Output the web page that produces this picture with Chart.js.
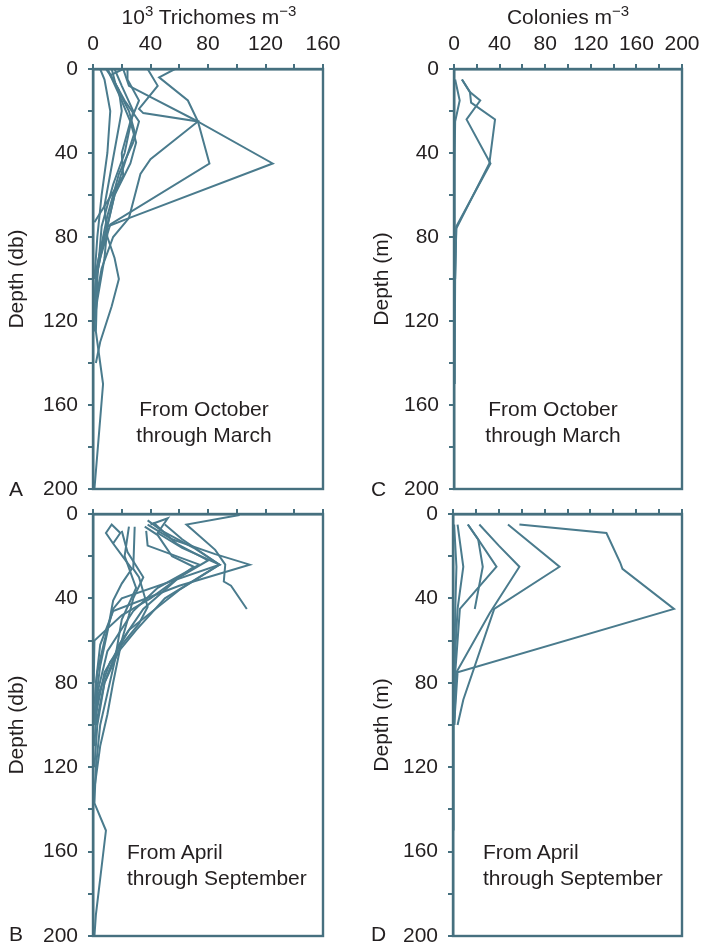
<!DOCTYPE html>
<html>
<head>
<meta charset="utf-8">
<script src="https://cdn.jsdelivr.net/npm/chart.js@4.4.1/dist/chart.umd.min.js"></script>
<style>
  html,body{margin:0;padding:0;background:#fff;}
  body{width:702px;height:946px;position:relative;overflow:hidden;font-family:"Liberation Sans",Arial,Helvetica,sans-serif;color:#231f20;}
  .box{position:absolute;}
  .txt{position:absolute;font-size:21px;line-height:26px;white-space:nowrap;}
  .ctr{transform:translateX(-50%);text-align:center;}
  sup{font-size:15px;vertical-align:0;position:relative;top:-8px;}
</style>
</head>
<body>
<div class="box" style="left:0;top:0;"><canvas id="chA" width="351" height="500"></canvas></div>
<div class="box" style="left:351px;top:0;"><canvas id="chC" width="351" height="500"></canvas></div>
<div class="box" style="left:0;top:500px;"><canvas id="chB" width="351" height="446"></canvas></div>
<div class="box" style="left:351px;top:500px;"><canvas id="chD" width="351" height="446"></canvas></div>

<div class="txt ctr" style="left:209px;top:4px;">10<sup>3</sup> Trichomes m<sup>&minus;3</sup></div>
<div class="txt ctr" style="left:568px;top:4px;">Colonies m<sup>&minus;3</sup></div>

<div class="txt" style="left:9px;top:476px;">A</div>
<div class="txt" style="left:9px;top:921px;">B</div>
<div class="txt" style="left:371px;top:476px;">C</div>
<div class="txt" style="left:371px;top:921px;">D</div>

<div class="txt ctr" style="left:204px;top:396px;">From October<br>through March</div>
<div class="txt ctr" style="left:553px;top:396px;">From October<br>through March</div>
<div class="txt" style="left:127px;top:839px;">From April<br>through September</div>
<div class="txt" style="left:483px;top:839px;">From April<br>through September</div>

<script>
// ---------- tick labels ----------
const trichomeTicks = [0, 40, 80, 120, 160];
const colonyTicks = [0, 40, 80, 120, 160, 200];
const depthTicks = [0, 40, 80, 120, 160, 200];

// ---------- data: each profile is a list of [abundance, depth] ----------
// A: 10^3 trichomes m^-3, October through March
const octMarTrichomes = [
  [[57,0],[46,4],[66,15],[73,25],[125,45],[25,71],[10,75],[4,90],[2,100],[1,125]],
  [[21,0],[25,8],[73,25],[81,45],[12,74],[5,90],[2,100],[1,110]],
  [[38,0],[45,8],[32,19],[35,21],[73,25],[40,43],[33,50],[25,71],[14,80],[6,95],[2,110]],
  [[9,0],[14,5],[22,15],[32,25],[28,35],[18,50],[10,70],[4,90],[1,100]],
  [[13,0],[16,8],[25,20],[29,30],[22,45],[15,60],[10,75],[8,90],[3,110],[1,120]],
  [[21,0],[12,3],[18,12],[26,25],[20,40],[21,51],[1,73]],
  [[10,0],[18,10],[20,20],[16,35],[12,50],[8,65],[10,80],[15,90],[18,100],[13,113],[5,130],[2,140]],
  [[15,0],[20,8],[28,20],[22,40],[14,55],[6,75],[3,100],[2,125],[7,150],[1,200]],
  [[24,0],[24,5],[32,15],[26,25],[30,35],[26,45],[15,60],[8,80],[2,100],[1,120]],
  [[5,0],[8,5],[12,20],[10,40],[6,60],[3,80],[1,100]]
];
// B: 10^3 trichomes m^-3, April through September
const aprSepTrichomes = [
  [[102,0.5],[65,5],[85,17],[92,24],[91,32],[96,34],[107,45]],
  [[38,5],[55,12],[85,19],[109,24],[60,34],[14,46],[5,62],[2,80],[1,100]],
  [[38,3],[48,8],[70,16],[88,24],[50,40],[30,55],[12,70],[4,85],[1,100]],
  [[40,5],[52,2],[45,9],[62,16],[88,24],[60,36],[25,55],[8,75],[2,95]],
  [[37,8],[38,15],[74,24],[45,35],[28,46],[10,65],[3,85],[1,110]],
  [[14,14],[9,9],[13,5],[19,9],[14,14],[27,26],[20,33],[14,41],[10,56],[5,72],[2,88],[1,100]],
  [[29,6],[28,26],[32,30],[38,44],[32,52],[20,62],[8,80],[2,100]],
  [[36,6],[45,10],[55,20],[70,25],[40,40],[20,48],[1,60],[0.5,80]],
  [[50,5],[62,12],[88,24],[20,40],[14,45],[8,60],[3,75],[1,90]],
  [[42,4],[58,14],[80,22],[60,30],[35,45],[18,62],[8,80],[3,100],[1,120]],
  [[20,8],[24,18],[35,30],[28,40],[25,48],[20,60],[14,80],[10,95],[5,110],[1,130]],
  [[25,6],[22,20],[30,35],[20,50],[15,70],[10,85],[5,100],[2,120],[1,137],[9,150],[2,190],[1,200]]
];
// C: colonies m^-3, October through March
const octMarColonies = [
  [[7,5],[14,11],[23,15],[11,24],[32,45],[2,75],[1,100],[0.5,150]],
  [[7,5],[14,11],[15,16],[36,24],[31,45],[2,76],[1,100]],
  [[1,5],[5,15],[1,25],[0.5,45],[0.5,75],[0.5,100],[0.3,150]]
];
// D: colonies m^-3, April through September
const aprSepColonies = [
  [[58,5],[134,9],[146,23],[148,26],[193,45],[4,75],[1,100]],
  [[48,5],[93,25],[36,45],[9,88],[4,100]],
  [[23,5],[40,15],[58,25],[32,47],[3,75],[1,100]],
  [[13,5],[22,12],[26,25],[19,45]],
  [[13,5],[22,12],[38,25],[6,45],[2,75],[1,100]],
  [[4,5],[9,25],[4,45],[1,75],[1,100]],
  [[1,5],[3,25],[2,45],[1,75],[0.5,100],[0.5,150]]
];

// ---------- styling ----------
const LINE = '#4a7b8d';
const AXIS = '#46707f';
const TEXT = '#231f20';
const FONT = '"Liberation Sans", Arial, Helvetica, sans-serif';

const boxPlugin = {
  id: 'frameBox',
  afterDraw(chart) {
    const {ctx, chartArea: a} = chart;
    ctx.save();
    ctx.strokeStyle = AXIS;
    ctx.lineWidth = 2.4;
    ctx.strokeRect(a.left, a.top, a.right - a.left, a.bottom - a.top);
    ctx.restore();
  }
};

function stepTicks(max) {
  const out = [];
  for (let v = 0; v <= max; v += 20) out.push({value: v});
  return out;
}

function noPad(s) {
  s.paddingTop = 0; s.paddingBottom = 0; s.paddingLeft = 0; s.paddingRight = 0;
}

function makeChart(id, profiles, xMax, xLabels, yTitle, g) {
  new Chart(document.getElementById(id), {
    type: 'scatter',
    data: {
      datasets: profiles.map(p => ({
        data: p.map(([x, y]) => ({x, y})),
        showLine: true,
        borderColor: LINE,
        borderWidth: 2,
        pointRadius: 0,
        pointHoverRadius: 0,
        tension: 0,
        fill: false
      }))
    },
    options: {
      responsive: false,
      animation: false,
      events: [],
      layout: {padding: {left: 0, top: 0, right: g.pr, bottom: g.pb}},
      plugins: {legend: {display: false}, tooltip: {enabled: false}},
      scales: {
        x: {
          type: 'linear', position: 'top', min: 0, max: xMax,
          afterBuildTicks: s => { s.ticks = stepTicks(xMax); },
          afterFit: s => { s.height = g.xh; noPad(s); },
          ticks: {
            autoSkip: false, maxRotation: 0, padding: 7, color: TEXT,
            font: {family: FONT, size: 21},
            callback: v => (xLabels.includes(v) ? String(v) : '')
          },
          grid: {drawOnChartArea: false, tickLength: 5, color: AXIS, lineWidth: 2},
          border: {color: AXIS, width: 2.4}
        },
        y: {
          type: 'linear', reverse: true, min: 0, max: 200,
          afterBuildTicks: s => { s.ticks = stepTicks(200); },
          afterFit: s => { s.width = g.yw; noPad(s); },
          ticks: {
            autoSkip: false, padding: 10, color: TEXT,
            font: {family: FONT, size: 21},
            callback: v => (depthTicks.includes(v) ? String(v) : '')
          },
          title: {
            display: true, text: yTitle, color: TEXT,
            font: {family: FONT, size: 21},
            padding: {top: g.tp, bottom: 0}
          },
          grid: {drawOnChartArea: false, tickLength: 5, color: AXIS, lineWidth: 2},
          border: {color: AXIS, width: 2.4}
        }
      }
    },
    plugins: [boxPlugin]
  });
}

makeChart('chA', octMarTrichomes, 160, trichomeTicks, 'Depth (db)', {yw: 93, xh: 69, pr: 28, pb: 11, tp: 5});
makeChart('chC', octMarColonies, 200, colonyTicks, 'Depth (m)', {yw: 103, xh: 69, pr: 20, pb: 11, tp: 19});
makeChart('chB', aprSepTrichomes, 160, [], 'Depth (db)', {yw: 93, xh: 14, pr: 28, pb: 10, tp: 5});
makeChart('chD', aprSepColonies, 200, [], 'Depth (m)', {yw: 102, xh: 14, pr: 20, pb: 10, tp: 19});
</script>
</body>
</html>
